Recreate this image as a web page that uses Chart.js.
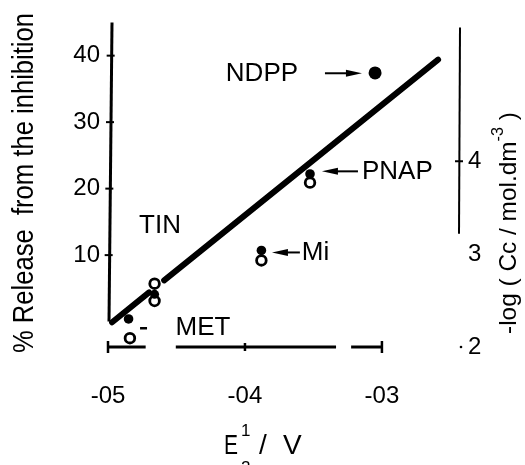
<!DOCTYPE html>
<html>
<head>
<meta charset="utf-8">
<script src="https://cdn.jsdelivr.net/npm/chart.js@4.4.1/dist/chart.umd.min.js"></script>
<style>
  html, body { margin: 0; padding: 0; background: #fff; }
  canvas { display: block; }
</style>
</head>
<body>
<canvas id="myChart" width="525" height="465"></canvas>
<script>
// values
const compounds = ["NDPP", "PNAP", "Mi", "TIN", "MET"];
const filledX = [-0.305, -0.3525, -0.388, -0.466, -0.485];
const filledY = [37.4, 22.2, 10.7, 4.1, 0.4];
const openX = [-0.3525, -0.388, -0.466, -0.466, -0.484];
const openY = [20.9, 9.2, 5.7, 3.1, -2.5];
// fitted line, drawn in two pieces (break near TIN)
const fitLowX = [-0.497, -0.470];
const fitLowY = [-0.1, 4.4];
const fitHighX = [-0.459, -0.259];
const fitHighY = [6.2, 39.4];

const xTicks = [-0.5, -0.4, -0.3];
const xTickLabels = ["-05", "-04", "-03"];
const leftTicks = [10, 20, 30, 40];
const rightTicks = [2, 3, 4];

const FONT = "'Liberation Sans', Arial, sans-serif";

const toPoints = (xs, ys) => xs.map((v, i) => ({ x: v, y: ys[i] }));

const line = (ctx, x1, y1, x2, y2) => {
  ctx.beginPath();
  ctx.moveTo(x1, y1);
  ctx.lineTo(x2, y2);
  ctx.stroke();
};

const arrow = (ctx, x1, y, x2) => {
  // shaft from x1 to x2, head at x2
  const dir = x2 > x1 ? 1 : -1;
  ctx.lineWidth = 2;
  line(ctx, x1, y, x2 - dir * 10, y);
  ctx.beginPath();
  ctx.moveTo(x2, y);
  ctx.lineTo(x2 - dir * 16, y - 3.5);
  ctx.lineTo(x2 - dir * 16, y + 3.5);
  ctx.closePath();
  ctx.fill();
};

// text rotated by -90deg, squeezed to a given length
const rotatedText = (ctx, parts, cx, cy, len) => {
  ctx.save();
  let w = 0;
  parts.forEach(p => { ctx.font = p.size + "px " + FONT; w += ctx.measureText(p.text).width; });
  ctx.translate(cx, cy);
  ctx.rotate(-Math.PI / 2);
  ctx.scale(len / w, 1);
  let pos = -w / 2;
  ctx.textBaseline = "middle";
  ctx.textAlign = "left";
  parts.forEach(p => {
    ctx.font = p.size + "px " + FONT;
    ctx.fillText(p.text, pos, -(p.rise || 0));
    pos += ctx.measureText(p.text).width;
  });
  ctx.restore();
};

const extras = {
  id: "extras",
  beforeDatasetsDraw(chart) {
    const { ctx, scales: { x, y, y2 } } = chart;
    ctx.save();
    ctx.strokeStyle = "#000";
    ctx.fillStyle = "#000";

    // left axis (stops at 0)
    const lx = x.left + 1;
    const tilt = 3;
    const y0 = y.getPixelForValue(0);
    ctx.lineWidth = 3;
    line(ctx, lx + tilt, y.top, lx, y0);
    ctx.lineWidth = 2;
    leftTicks.forEach(t => {
      const py = y.getPixelForValue(t);
      const ax = lx + tilt * (y0 - py) / (y0 - y.top);
      line(ctx, ax - 5, py, ax + 3, py);
    });

    // bottom axis, broken as in the print
    const by = y.bottom;
    ctx.lineWidth = 3;
    line(ctx, x.getPixelForValue(-0.5), by, x.getPixelForValue(-0.4725), by);
    line(ctx, x.getPixelForValue(-0.4505), by, x.getPixelForValue(-0.3335), by);
    line(ctx, x.getPixelForValue(-0.3225), by, x.getPixelForValue(-0.3), by);
    ctx.lineWidth = 2.5;
    xTicks.forEach((t, i) => {
      const px = x.getPixelForValue(t);
      const h = i === 1 ? 4 : 6;
      line(ctx, px, by - h, px, by + h);
    });

    // right axis (short)
    const rx = x.right;
    ctx.lineWidth = 2;
    line(ctx, rx, y2.getPixelForValue(5.44), rx - 1, y2.getPixelForValue(3.22));
    line(ctx, rx - 5, y2.getPixelForValue(4), rx + 3, y2.getPixelForValue(4));
    ctx.beginPath();
    ctx.arc(rx + 1, y2.getPixelForValue(2), 1.3, 0, Math.PI * 2);
    ctx.fill();
    ctx.restore();
  },
  afterDraw(chart) {
    const { ctx, scales: { x, y } } = chart;
    const px = v => x.getPixelForValue(v);
    const py = v => y.getPixelForValue(v);
    ctx.save();
    ctx.fillStyle = "#000";
    ctx.strokeStyle = "#000";

    // compound labels
    ctx.font = "26px " + FONT;
    ctx.textBaseline = "middle";
    ctx.textAlign = "center";
    ctx.fillText(compounds[0], px(-0.3876), py(37.2));
    ctx.fillText(compounds[3], px(-0.462), py(14.4));
    ctx.fillText(compounds[4], px(-0.4307), py(-1.0));
    ctx.textAlign = "left";
    ctx.fillText(compounds[1], px(-0.3146), py(22.6));
    ctx.fillText(compounds[2], px(-0.3585), py(10.3));

    // arrows
    arrow(ctx, px(-0.3416), py(37.35), px(-0.3146));
    arrow(ctx, px(-0.3175), py(22.6), px(-0.3438));
    arrow(ctx, px(-0.3599), py(10.4), px(-0.3803));
    ctx.lineWidth = 2.5;
    line(ctx, px(-0.4766), py(-1.0), px(-0.4715), py(-1.0));

    // axis titles
    rotatedText(ctx, [{ text: "% Release  from the inhibition", size: 29 }], 25, 183, 340);
    rotatedText(ctx, [
      { text: "-log ( Cc / mol.dm", size: 24 },
      { text: "-3", size: 16, rise: 10 },
      { text: " )", size: 24 }
    ], 509, 223, 222);

    ctx.textAlign = "left";
    ctx.textBaseline = "alphabetic";
    ctx.font = "28px " + FONT;
    ctx.save();
    ctx.translate(224, 454);
    ctx.scale(0.75, 1);
    ctx.fillText("E", 0, 0);
    ctx.restore();
    ctx.font = "17px " + FONT;
    ctx.fillText("1", 241, 436);
    ctx.fillText("2", 241, 473);
    ctx.font = "28px " + FONT;
    ctx.fillText("/", 259, 454);
    ctx.fillText("V", 283, 454);
    ctx.restore();
  }
};

new Chart(document.getElementById("myChart"), {
  type: "scatter",
  data: {
    datasets: [
      {
        label: "% release",
        data: toPoints(filledX, filledY),
        yAxisID: "y",
        pointRadius: [6.5, 4.8, 4.8, 4.5, 4.8],
        backgroundColor: "#000",
        borderColor: "#000",
        borderWidth: 0
      },
      {
        label: "-log Cc",
        data: toPoints(openX, openY),
        yAxisID: "y",
        pointRadius: 4.8,
        backgroundColor: "#fff",
        borderColor: "#000",
        borderWidth: 2.8
      },
      {
        label: "fit",
        data: toPoints(fitLowX, fitLowY),
        yAxisID: "y",
        showLine: true,
        pointRadius: 0,
        borderColor: "#000",
        borderWidth: 6,
        borderCapStyle: "round"
      },
      {
        label: "fit2",
        data: toPoints(fitHighX, fitHighY),
        yAxisID: "y",
        showLine: true,
        pointRadius: 0,
        borderColor: "#000",
        borderWidth: 6,
        borderCapStyle: "round"
      }
    ]
  },
  options: {
    responsive: false,
    animation: false,
    layout: { padding: { top: 15 } },
    plugins: { legend: { display: false }, tooltip: { enabled: false } },
    scales: {
      x: {
        type: "linear",
        position: "bottom",
        min: -0.5,
        max: -0.243,
        afterBuildTicks: s => { s.ticks = xTicks.map(v => ({ value: v })); },
        afterFit: s => { s.height = 118; },
        grid: { display: false, tickLength: 0 },
        border: { display: false },
        ticks: {
          padding: 35,
          color: "#000",
          autoSkip: false,
          maxRotation: 0,
          font: { family: FONT, size: 24 },
          callback: (v, i) => xTickLabels[i]
        }
      },
      y: {
        type: "linear",
        position: "left",
        min: -3.82,
        max: 45,
        afterBuildTicks: s => { s.ticks = leftTicks.map(v => ({ value: v })); },
        afterFit: s => { s.width = 108; },
        grid: { display: false, tickLength: 0 },
        border: { display: false },
        ticks: { padding: 8, color: "#000", font: { family: FONT, size: 24 } }
      },
      y2: {
        type: "linear",
        position: "right",
        min: 2,
        max: 5.495,
        afterBuildTicks: s => { s.ticks = rightTicks.map(v => ({ value: v })); },
        afterFit: s => { s.width = 65; },
        grid: { display: false, tickLength: 0 },
        border: { display: false },
        ticks: { padding: 8, color: "#000", font: { family: FONT, size: 24 } }
      }
    }
  },
  plugins: [extras]
});
</script>
</body>
</html>
